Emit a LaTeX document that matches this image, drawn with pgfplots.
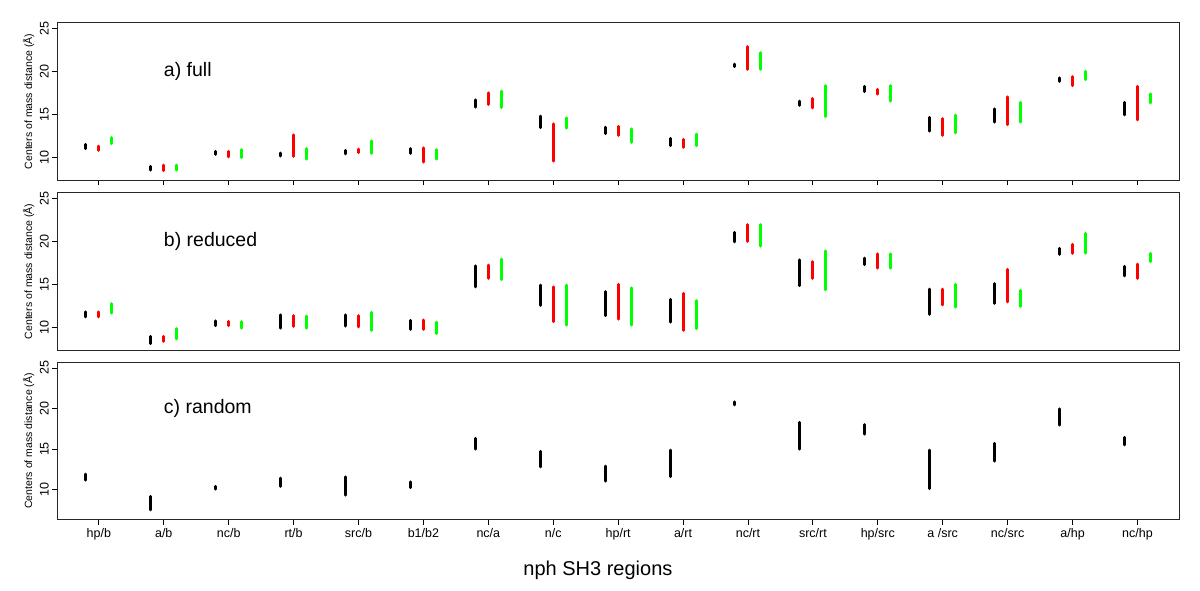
\documentclass[border=0pt]{standalone}
\usepackage{pgfplots}
\pgfplotsset{compat=1.18}
\usepackage{pgfplotstable}
\usepackage{fontspec}
\setmainfont{Liberation Sans}

% panel a) full
\pgfplotstableread{
i bklo bkhi rdlo rdhi grlo grhi
1 11.0 11.5 10.8 11.3 11.6 12.3
2 8.5 8.95 8.45 9.1 8.5 9.1
3 10.35 10.7 10.05 10.7 9.95 10.9
4 10.15 10.5 10.1 12.6 9.8 11.0
5 10.4 10.8 10.55 10.95 10.45 11.9
6 10.45 11.0 9.45 11.1 9.8 10.9
7 15.85 16.7 16.15 17.5 15.8 17.7
8 13.45 14.8 9.55 13.9 13.4 14.6
9 12.75 13.5 12.55 13.6 11.75 13.3
10 11.35 12.2 11.15 12.1 11.35 12.7
11 20.55 20.85 20.25 22.9 20.25 22.2
12 16.05 16.55 15.75 16.85 14.75 18.35
13 17.65 18.25 17.35 17.9 16.55 18.35
14 13.05 14.65 12.55 14.5 12.85 14.9
15 14.1 15.65 13.8 17.05 14.1 16.4
16 18.85 19.25 18.35 19.4 19.05 20.0
17 14.95 16.4 14.35 18.25 16.35 17.4
}\tabfull

% panel b) reduced
\pgfplotstableread{
i bklo bkhi rdlo rdhi grlo grhi
1 11.2 11.8 11.2 11.8 11.65 12.75
2 8.1 8.95 8.35 8.95 8.65 9.85
3 10.2 10.75 10.2 10.7 9.9 10.65
4 9.9 11.45 10.1 11.35 9.9 11.3
5 10.15 11.45 10.05 11.35 9.65 11.75
6 9.75 10.8 9.75 10.85 9.25 10.6
7 14.7 17.15 15.7 17.25 15.55 17.95
8 12.55 14.9 10.65 14.7 10.25 14.9
9 11.35 14.15 10.95 15.0 10.25 14.6
10 10.6 13.25 9.65 13.95 9.85 13.1
11 19.95 21.05 20.0 21.95 19.45 21.95
12 14.85 17.85 15.7 17.65 14.35 18.9
13 17.3 18.05 16.9 18.55 16.9 18.55
14 11.5 14.45 12.6 14.45 12.35 15.0
15 12.8 15.1 12.95 16.75 12.45 14.3
16 18.5 19.2 18.6 19.65 18.65 20.95
17 16.0 17.1 15.7 17.35 17.65 18.6
}\tabreduced

% panel c) random
\pgfplotstableread{
i bklo bkhi
1 11.15 11.9
2 7.5 9.15
3 10.05 10.4
4 10.4 11.4
5 9.3 11.55
6 10.25 10.95
7 15.0 16.3
8 12.8 14.7
9 11.05 12.9
10 11.6 14.85
11 20.45 20.8
12 15.0 18.3
13 16.85 18.0
14 10.1 14.85
15 13.5 15.7
16 17.95 19.95
17 15.5 16.45
}\tabrandom

\definecolor{rgreen}{RGB}{0,255,0}
\definecolor{rred}{RGB}{255,0,0}

% #1 table, #2 x offset, #3 lo col, #4 hi col, #5 colour
\newcommand{\seg}[5]{%
  \addplot[draw=none, mark=none, forget plot,
    error bars/.cd, y dir=plus, y explicit, error mark=none,
    error bar style={draw=#5, solid, line width=3pt, line cap=round}]
    table[x expr=\thisrow{i}+#2, y=#3, y error expr=\thisrow{#4}-\thisrow{#3}] {#1};}

\tikzset{ptitle/.style={anchor=west, inner sep=0pt, font=\fontsize{19.5}{20}\selectfont}}

\pgfplotsset{
  panel/.style={
    scale only axis, width=1121.7pt, height=157.6pt,
    xmin=0.36, xmax=17.64, ymin=7.32, ymax=25.68,
    anchor=south west,
    axis line style={black!85, line width=0.9pt},
    tick style={black, line width=0.8pt},
    tick align=outside, major tick length=5pt,
    ytick={10,15,20,25}, xtick={1,...,17},
    xtick pos=bottom, ytick pos=left,
    yticklabel style={rotate=90, anchor=south, font=\fontsize{12.5}{13}\selectfont},
    xticklabel style={font=\fontsize{12.5}{13}\selectfont},
    /pgf/number format/assume math mode=true,
    ylabel={Centers of mass distance (Å)},
    ylabel style={at={(axis description cs:0,0.5)}, anchor=center, yshift=28.7pt,
      font=\fontsize{10.5}{12}\selectfont},
    clip=false,
  },
}

\begin{document}
\begin{tikzpicture}
\path[use as bounding box] (0,0) rectangle (1200pt,590pt);

% a) full
\begin{axis}[panel, at={(57.3pt,409.7pt)}, xticklabels={}]
  \seg{\tabfull}{-0.2}{bklo}{bkhi}{black}
  \seg{\tabfull}{0}{rdlo}{rdhi}{rred}
  \seg{\tabfull}{0.2}{grlo}{grhi}{rgreen}
  \node[ptitle] at (axis cs:2,20) {a) full};
\end{axis}

% b) reduced
\begin{axis}[panel, at={(57.3pt,239.7pt)}, xtick=\empty]
  \seg{\tabreduced}{-0.2}{bklo}{bkhi}{black}
  \seg{\tabreduced}{0}{rdlo}{rdhi}{rred}
  \seg{\tabreduced}{0.2}{grlo}{grhi}{rgreen}
  \node[ptitle] at (axis cs:2,20) {b) reduced};
\end{axis}

% c) random
\begin{axis}[panel, at={(57.3pt,70.3pt)}, ymin=6.28, ymax=25.72,
  xticklabels={hp/b,a/b,nc/b,rt/b,src/b,b1/b2,nc/a,n/c,hp/rt,a/rt,nc/rt,src/rt,hp/src,a /src,nc/src,a/hp,nc/hp},
  xlabel={nph SH3 regions},
  xlabel style={at={(axis description cs:0.482,0)}, anchor=center, yshift=-50.3pt,
    font=\fontsize{20}{22}\selectfont}]
  \seg{\tabrandom}{-0.2}{bklo}{bkhi}{black}
  \node[ptitle] at (axis cs:2,20) {c) random};
\end{axis}
\end{tikzpicture}
\end{document}
